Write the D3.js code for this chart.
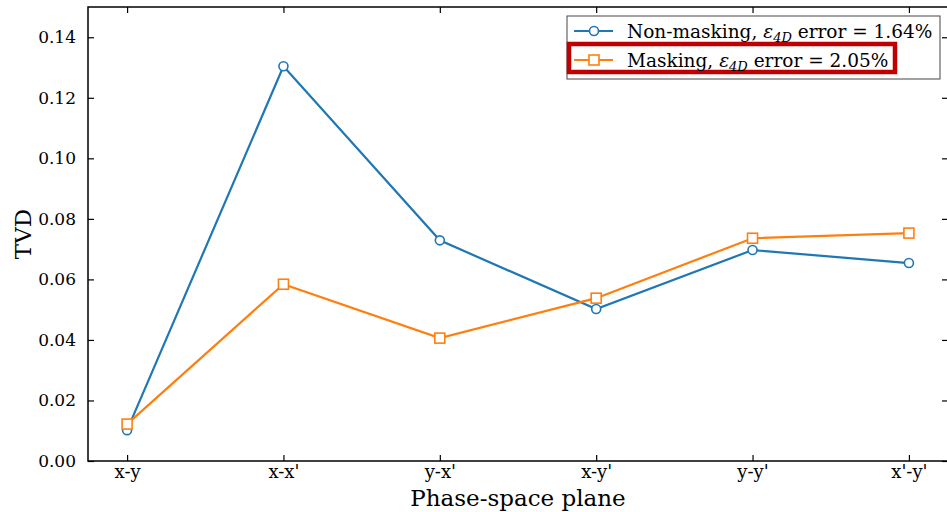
<!DOCTYPE html>
<html>
<head>
<meta charset="utf-8">
<script src="https://cdn.jsdelivr.net/npm/d3@7"></script>
<style>
  body { margin: 0; background: #fff; }
  text { font-family: "DejaVu Serif", serif; fill: #000; }
</style>
</head>
<body>
<svg id="chart"></svg>
<script>
// data
const planes = ["x-y", "x-x'", "y-x'", "x-y'", "y-y'", "x'-y'"];
const nonMasking = [0.0102, 0.1304, 0.0729, 0.0502, 0.0697, 0.0654];
const masking = [0.0122, 0.0584, 0.0406, 0.0538, 0.0736, 0.0753];
const yTicks = [0.00, 0.02, 0.04, 0.06, 0.08, 0.10, 0.12, 0.14];

const width = 947, height = 512;
const margin = { top: 7, right: -1, bottom: 51, left: 88 };
const innerW = width - margin.left - margin.right;
const innerH = height - margin.top - margin.bottom;

const svg = d3.select('#chart')
    .attr('width', width)
    .attr('height', height);

const chart = svg.append('g')
    .attr('transform', `translate(${margin.left},${margin.top})`);

// matplotlib style: 5% padding on both sides
const xScale = d3.scaleLinear()
    .domain([-0.25, planes.length - 1 + 0.25])
    .range([0, innerW]);

const yScale = d3.scaleLinear()
    .domain([0, 0.15])
    .range([innerH, 0]);

const blue = '#1f77b4', orange = '#ff7f0e';

// axes with inward ticks on all four sides
const xAxis = d3.axisBottom(xScale)
    .tickValues(d3.range(planes.length))
    .tickFormat(i => planes[i])
    .tickSizeInner(-6).tickSizeOuter(0).tickPadding(12);
const yAxis = d3.axisLeft(yScale)
    .tickValues(yTicks)
    .tickFormat(d3.format('.2f'))
    .tickSizeInner(-6).tickSizeOuter(0).tickPadding(12);

const xG = chart.append('g')
    .attr('transform', `translate(0,${innerH})`)
    .call(xAxis);
const yG = chart.append('g').call(yAxis);

chart.append('g')
    .call(d3.axisTop(xScale).tickValues(d3.range(planes.length)).tickFormat('')
        .tickSizeInner(-6).tickSizeOuter(0));
chart.append('g')
    .attr('transform', `translate(${innerW},0)`)
    .call(d3.axisRight(yScale).tickValues(yTicks).tickFormat('')
        .tickSizeInner(-6).tickSizeOuter(0));

chart.selectAll('.domain').remove();
chart.selectAll('.tick line').attr('stroke', '#000').attr('stroke-width', 1.2);
xG.attr('font-size', null).attr('font-family', null);
yG.attr('font-size', null).attr('font-family', null);
yG.selectAll('.tick text')
    .style('font-size', '17px')
    .attr('fill', '#000');
xG.selectAll('.tick text')
    .attr('y', 17).attr('dy', null)
    .style('font-size', '18px')
    .attr('fill', '#000');

// frame
chart.append('rect')
    .attr('x', 0).attr('y', 0)
    .attr('width', innerW).attr('height', innerH)
    .attr('fill', 'none').attr('stroke', '#000').attr('stroke-width', 1.5);

// lines
const line = d3.line()
    .x((d, i) => xScale(i))
    .y(d => yScale(d));

chart.append('path').datum(nonMasking)
    .attr('d', line).attr('fill', 'none')
    .attr('stroke', blue).attr('stroke-width', 2.2);
chart.append('path').datum(masking)
    .attr('d', line).attr('fill', 'none')
    .attr('stroke', orange).attr('stroke-width', 2.2);

chart.selectAll('.mk-blue')
    .data(nonMasking).enter().append('circle')
    .attr('cx', (d, i) => xScale(i)).attr('cy', d => yScale(d))
    .attr('r', 4.5).attr('fill', '#fff')
    .attr('stroke', blue).attr('stroke-width', 1.6);
chart.selectAll('.mk-orange')
    .data(masking).enter().append('rect')
    .attr('x', (d, i) => xScale(i) - 5).attr('y', d => yScale(d) - 5)
    .attr('width', 10).attr('height', 10).attr('fill', '#fff')
    .attr('stroke', orange).attr('stroke-width', 1.6);

// axis titles
svg.append('text')
    .attr('x', margin.left + (xScale(2.5)))
    .attr('y', 506)
    .attr('text-anchor', 'middle')
    .style('font-size', '23px')
    .text('Phase-space plane');

svg.append('text')
    .attr('transform', `translate(31,${margin.top + innerH / 2}) rotate(-90)`)
    .attr('text-anchor', 'middle')
    .style('font-size', '23px')
    .text('TVD');

// legend
const legend = svg.append('g');
legend.append('rect')
    .attr('x', 567).attr('y', 16).attr('width', 373).attr('height', 63)
    .attr('fill', '#fff').attr('stroke', '#444').attr('stroke-width', 1);

const entries = [
    { color: blue, shape: 'circle', label: 'Non-masking, ', val: ' error = 1.64%', y: 31 },
    { color: orange, shape: 'square', label: 'Masking, ', val: ' error = 2.05%', y: 60 }
];

// red highlight box around the second entry
legend.append('rect')
    .attr('x', 569).attr('y', 44).attr('width', 326).attr('height', 28)
    .attr('fill', 'none').attr('stroke', '#c00000').attr('stroke-width', 4.5);

entries.forEach(e => {
    legend.append('line')
        .attr('x1', 574).attr('x2', 613).attr('y1', e.y).attr('y2', e.y)
        .attr('stroke', e.color).attr('stroke-width', 2.2);
    if (e.shape === 'circle') {
        legend.append('circle').attr('cx', 594).attr('cy', e.y).attr('r', 4.5)
            .attr('fill', '#fff').attr('stroke', e.color).attr('stroke-width', 1.6);
    } else {
        legend.append('rect').attr('x', 589).attr('y', e.y - 5)
            .attr('width', 10).attr('height', 10)
            .attr('fill', '#fff').attr('stroke', e.color).attr('stroke-width', 1.6);
    }
    const t = legend.append('text')
        .attr('x', 627).attr('y', e.y + 7)
        .style('font-size', '18.5px');
    t.append('tspan').text(e.label);
    t.append('tspan').style('font-style', 'italic').text('ε');
    t.append('tspan').attr('dy', 4).style('font-size', '13px').style('font-style', 'italic').text('4D');
    t.append('tspan').attr('dy', -4).text(e.val);
});
</script>
</body>
</html>
